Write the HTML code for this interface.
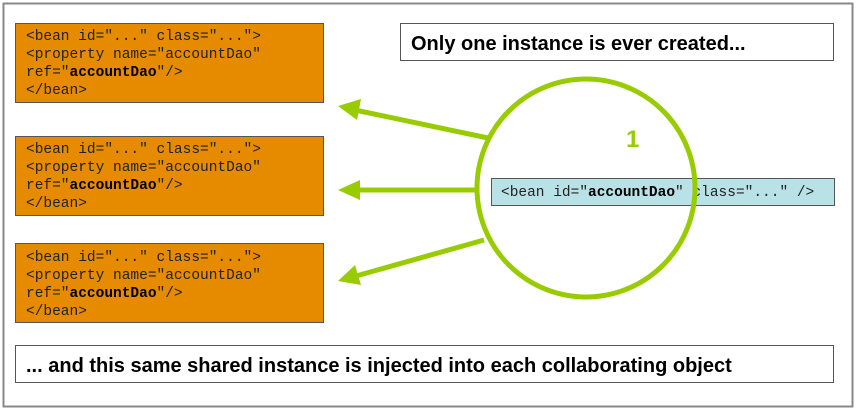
<!DOCTYPE html>
<html><head><meta charset="utf-8"><style>
html,body{margin:0;padding:0;background:#fff;}
svg{display:block;}
.m{font-family:"Liberation Mono",monospace;font-size:14.5px;fill:#222;}
.b{font-weight:bold;fill:#000;}
.s{font-family:"Liberation Sans",sans-serif;font-weight:bold;font-size:20px;fill:#000;}
</style></head><body>
<svg width="858" height="410" viewBox="0 0 858 410">
<rect x="3.5" y="3.5" width="849" height="403" fill="#fff" stroke="#888" stroke-width="2"/>
<g stroke="#555" stroke-width="1" fill="#e68a00">
<rect x="15.5" y="23.5" width="308" height="79"/>
<rect x="15.5" y="136.5" width="308" height="79"/>
<rect x="15.5" y="243.5" width="308" height="79"/>
</g>
<g class="m">
<text x="26" y="40">&lt;bean id="..." class="..."&gt;</text>
<text x="26" y="58">    &lt;property name="accountDao"</text>
<text x="26" y="76">             ref="<tspan class="b">accountDao</tspan>"/&gt;</text>
<text x="26" y="94">&lt;/bean&gt;</text>
<text x="26" y="153">&lt;bean id="..." class="..."&gt;</text>
<text x="26" y="171">    &lt;property name="accountDao"</text>
<text x="26" y="189">             ref="<tspan class="b">accountDao</tspan>"/&gt;</text>
<text x="26" y="207">&lt;/bean&gt;</text>
<text x="26" y="261">&lt;bean id="..." class="..."&gt;</text>
<text x="26" y="279">    &lt;property name="accountDao"</text>
<text x="26" y="297">             ref="<tspan class="b">accountDao</tspan>"/&gt;</text>
<text x="26" y="315">&lt;/bean&gt;</text>
</g>
<rect x="400.5" y="23.5" width="433" height="37" fill="#fff" stroke="#555"/>
<text class="s" x="411" y="50">Only one instance is ever created...</text>
<rect x="15.5" y="345.5" width="818" height="37" fill="#fff" stroke="#555"/>
<text class="s" x="26" y="372">... and this same shared instance is injected into each collaborating object</text>
<rect x="491.5" y="178.5" width="343" height="27" fill="#b8e2e6" stroke="#555"/>
<text class="m" x="501" y="196">&lt;bean id="<tspan class="b">accountDao</tspan>" class="..." /&gt;</text>
<g stroke="#99cc00" stroke-width="5" fill="none">
<circle cx="586" cy="188" r="109"/>
<line x1="488" y1="138" x2="355" y2="110"/>
<line x1="478" y1="190" x2="356" y2="190"/>
<line x1="484" y1="240" x2="356" y2="276"/>
</g>
<g fill="#99cc00">
<polygon points="338,106 361,99 357,120"/>
<polygon points="338,190 360,180 360,200"/>
<polygon points="338,281 355,265 361,285"/>
</g>
<text x="626" y="147" font-family="Liberation Sans,sans-serif" font-weight="bold" font-size="24" fill="#99cc00">1</text>
</svg>
</body></html>
